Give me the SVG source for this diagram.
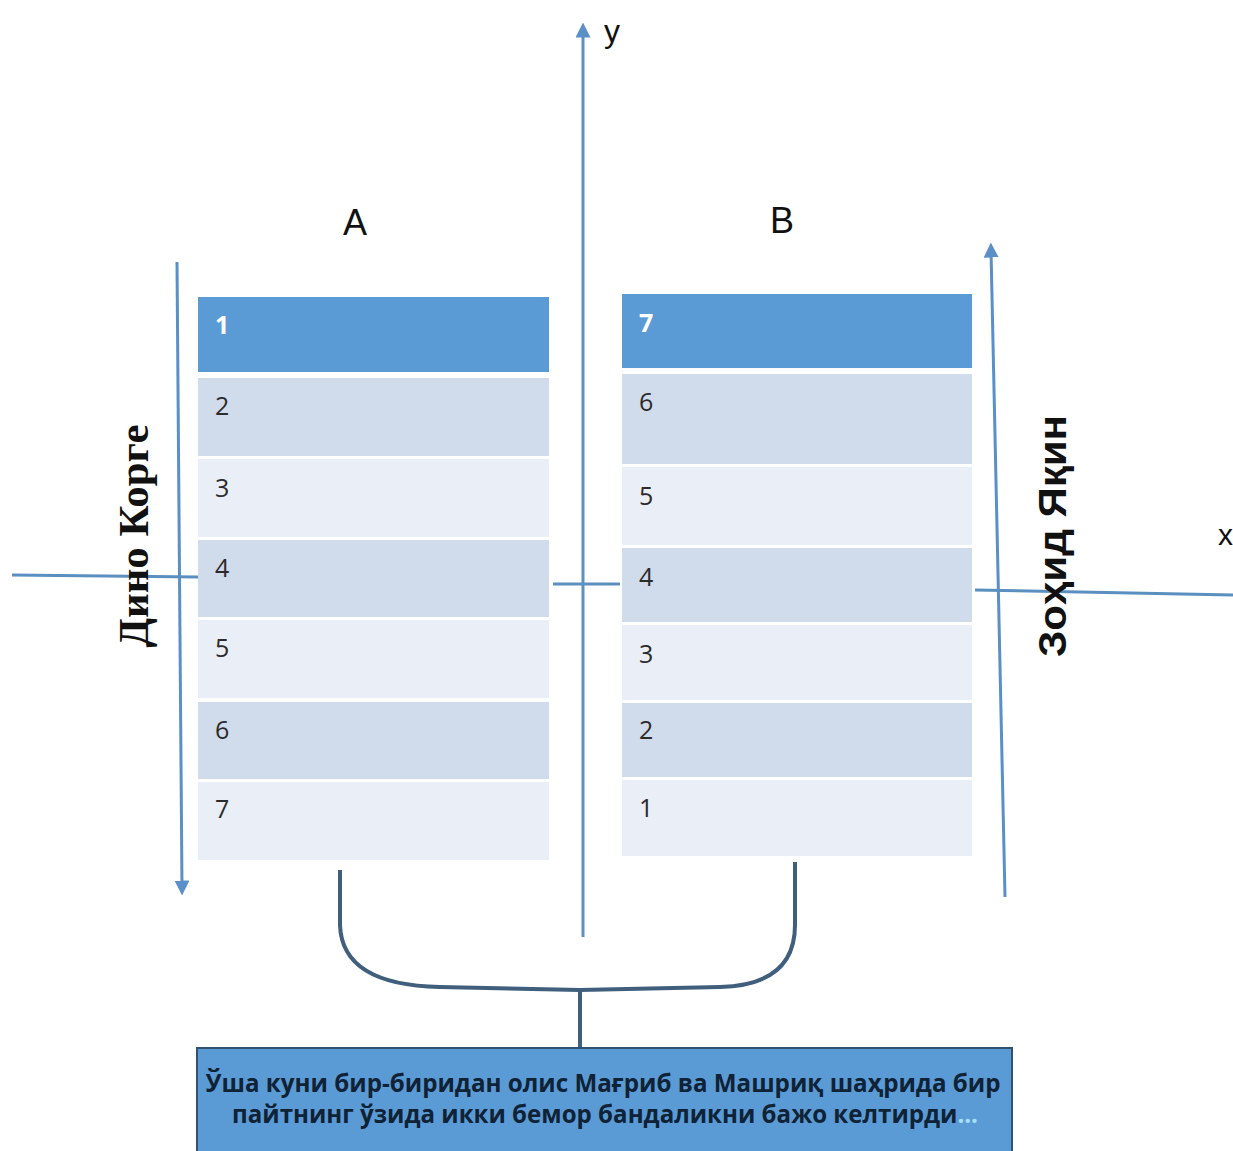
<svg xmlns="http://www.w3.org/2000/svg" width="1233" height="1151" viewBox="0 0 1233 1151">
<style>
.hdr{fill:#5b9bd5}
.dk{fill:#d0dbec}
.lt{fill:#e9eef7}
.num{font-family:"Open Sans","Liberation Sans",sans-serif;font-size:25px;fill:#2b2b2b}
.hnum{font-family:"Open Sans","Liberation Sans",sans-serif;font-size:25px;font-weight:bold;fill:#ffffff}
.ax{stroke:#5a8fc8;stroke-width:3;fill:none}
.axlbl{font-family:"Liberation Sans",Arial,sans-serif;font-size:36px;fill:#111}
.brace{stroke:#3f5f7d;stroke-width:4;fill:none}
</style>
<defs>
<marker id="ah" viewBox="0 0 10 10" refX="5" refY="5" markerWidth="5" markerHeight="5" orient="auto-start-reverse" markerUnits="strokeWidth">
<path d="M0,0 L10,5 L0,10 z" fill="#5a8fc8"/>
</marker>
</defs>
<rect width="1233" height="1151" fill="#ffffff"/>

<g id="connectors">
<line class="ax" x1="583" y1="937" x2="583" y2="30" marker-end="url(#ah)"/>
<line class="ax" x1="177" y1="262" x2="182" y2="888" marker-end="url(#ah)"/>
<line class="ax" x1="1005" y1="897" x2="991" y2="250" marker-end="url(#ah)"/>
<line class="ax" x1="12" y1="575" x2="198" y2="577" style="stroke:#5a8fc0"/>
<line class="ax" x1="553" y1="584" x2="620" y2="584" style="stroke:#5a8fc0"/>
<line class="ax" x1="975" y1="590" x2="1233" y2="595" style="stroke:#5a8fc0"/>
<path class="brace" d="M340,870 L340,925 Q342,985 440,987 L580,990 L720,987 Q795,985 795,925 L795,862"/>
<line class="brace" x1="580" y1="990" x2="580" y2="1049"/>
</g>

<g id="tableA">
<rect class="hdr" x="198" y="297" width="351" height="75"/>
<rect class="dk" x="198" y="378" width="351" height="78"/>
<rect class="lt" x="198" y="459" width="351" height="78"/>
<rect class="dk" x="198" y="540" width="351" height="77"/>
<rect class="lt" x="198" y="620" width="351" height="78"/>
<rect class="dk" x="198" y="702" width="351" height="77"/>
<rect class="lt" x="198" y="782" width="351" height="78"/>
<text class="hnum" x="215" y="334">1</text>
<text class="num" x="215" y="415">2</text>
<text class="num" x="215" y="497">3</text>
<text class="num" x="215" y="577">4</text>
<text class="num" x="215" y="657">5</text>
<text class="num" x="215" y="739">6</text>
<text class="num" x="215" y="818">7</text>
</g>

<g id="tableB">
<rect class="hdr" x="622" y="294" width="350" height="74"/>
<rect class="dk" x="622" y="374" width="350" height="90"/>
<rect class="lt" x="622" y="467" width="350" height="78"/>
<rect class="dk" x="622" y="548" width="350" height="74"/>
<rect class="lt" x="622" y="625" width="350" height="75"/>
<rect class="dk" x="622" y="703" width="350" height="74"/>
<rect class="lt" x="622" y="780" width="350" height="76"/>
<text class="hnum" x="639" y="332">7</text>
<text class="num" x="639" y="411">6</text>
<text class="num" x="639" y="505">5</text>
<text class="num" x="639" y="586">4</text>
<text class="num" x="639" y="663">3</text>
<text class="num" x="639" y="739">2</text>
<text class="num" x="639" y="817">1</text>
</g>

<g id="labels">
<text class="axlbl" x="355" y="235" text-anchor="middle">A</text>
<text class="axlbl" x="782" y="233" text-anchor="middle">B</text>
<text class="axlbl" x="612" y="42" text-anchor="middle" style="font-size:32px">y</text>
<text class="axlbl" x="1218" y="545" style="font-size:30px">x</text>
<text transform="translate(148,536) rotate(-90)" text-anchor="middle" textLength="223" lengthAdjust="spacingAndGlyphs" style="font-family:'Liberation Serif','Times New Roman',serif;font-size:43px;font-weight:bold;fill:#111">Дино Корге</text>
<text transform="translate(1066,536) rotate(-90)" text-anchor="middle" textLength="242" lengthAdjust="spacingAndGlyphs" style="font-family:'Liberation Sans',Arial,sans-serif;font-size:39px;font-weight:bold;fill:#111">Зоҳид Яқин</text>
</g>

<g id="note">
<rect x="197" y="1048" width="815" height="110" fill="#5b9bd5" stroke="#2f5270" stroke-width="2"/>
<text x="603" y="1092" text-anchor="middle" textLength="795" lengthAdjust="spacingAndGlyphs" style="font-family:'Open Sans','Liberation Sans',sans-serif;font-size:25px;font-weight:bold;fill:#0f2236">Ўша куни бир-биридан олис Мағриб ва Машриқ шаҳрида бир</text>
<text x="232" y="1123" textLength="746" lengthAdjust="spacingAndGlyphs" style="font-family:'Open Sans','Liberation Sans',sans-serif;font-size:25px;font-weight:bold;fill:#0f2236">пайтнинг ўзида икки бемор бандаликни бажо келтирди<tspan fill="#a8e0f5">...</tspan></text>
</g>
</svg>
